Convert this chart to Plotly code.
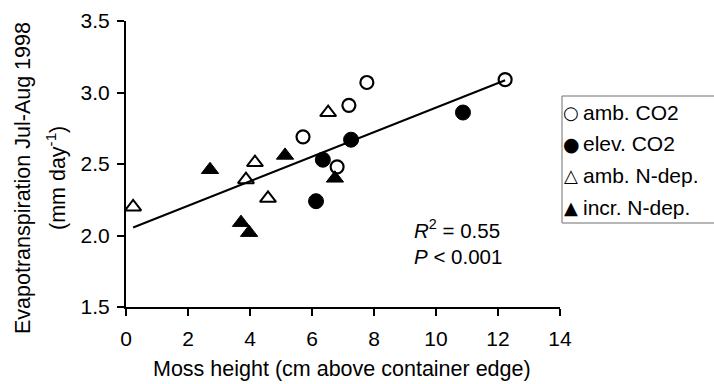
import numpy as np
import plotly.graph_objects as go

# Moss height (cm above container edge) and evapotranspiration (mm/day), Jul-Aug 1998
amb_co2_x = [5.71, 7.19, 7.77, 6.81, 12.23]
amb_co2_y = [2.69, 2.91, 3.07, 2.48, 3.09]
elev_co2_x = [6.13, 6.35, 7.26, 10.87]
elev_co2_y = [2.24, 2.53, 2.67, 2.86]
amb_n_x = [0.23, 3.87, 4.16, 4.58, 6.52]
amb_n_y = [2.20, 2.39, 2.51, 2.26, 2.86]
incr_n_x = [2.71, 3.71, 3.97, 5.13, 6.74]
incr_n_y = [2.46, 2.09, 2.02, 2.56, 2.40]

series_names = ["amb. CO2", "elev. CO2", "amb. N-dep.", "incr. N-dep."]
legend_glyphs = ["\u25CB", "\u25CF", "\u25B3", "\u25B2"]
x_ticks = [0, 2, 4, 6, 8, 10, 12, 14]
y_ticks = [1.5, 2.0, 2.5, 3.0, 3.5]
stats_text = "<i>R</i><sup>2</sup> = 0.55<br><i>P</i> < 0.001"

FONT = "Liberation Sans, Arial, Helvetica, sans-serif"

# Plot-area geometry in pixels (used to place the boxed key outside the axes)
W, H = 714, 384
ML, MR, MT, MB = 126, 154, 21, 77
PW, PH = W - ML - MR, H - MT - MB


def px_x(p):
    return (p - ML) / PW


def px_y(p):
    return (H - MB - p) / PH


# Linear fit across all plots
all_x = np.array(amb_co2_x + elev_co2_x + amb_n_x + incr_n_x)
all_y = np.array(amb_co2_y + elev_co2_y + amb_n_y + incr_n_y)
slope, intercept = np.polyfit(all_x, all_y, 1)
fit_x = np.array([all_x.min(), all_x.max()])
fit_y = intercept + slope * fit_x

fig = go.Figure()
fig.add_trace(go.Scatter(x=fit_x, y=fit_y, mode="lines",
                         line=dict(color="black", width=2), showlegend=False,
                         hoverinfo="skip"))

styles = [
    (amb_co2_x, amb_co2_y, "circle-open", 13, 2.2),
    (elev_co2_x, elev_co2_y, "circle", 15, 1),
    (amb_n_x, amb_n_y, "triangle-up-open", 14, 2),
    (incr_n_x, incr_n_y, "triangle-up", 15, 1),
]
for name, (xs, ys, sym, sz, lw) in zip(series_names, styles):
    fig.add_trace(go.Scatter(
        x=xs, y=ys, mode="markers", name=name, showlegend=False,
        marker=dict(symbol=sym, size=sz, color="black",
                    line=dict(color="black", width=lw)),
    ))

annotations = [
    dict(text="Moss height (cm above container edge)", xref="paper", yref="paper",
         x=px_x(342), y=px_y(369), xanchor="center", yanchor="middle",
         showarrow=False, font=dict(size=21.5)),
    dict(text="Evapotranspiration Jul-Aug 1998", xref="paper", yref="paper",
         x=px_x(23), y=px_y(178), xanchor="center", yanchor="middle",
         textangle=-90, showarrow=False, font=dict(size=21.5)),
    dict(text="(mm day<sup>-1</sup>)", xref="paper", yref="paper",
         x=px_x(56), y=px_y(178), xanchor="center", yanchor="middle",
         textangle=-90, showarrow=False, font=dict(size=21.5)),
    dict(text=stats_text, xref="paper", yref="paper", x=px_x(412), y=px_y(242),
         xanchor="left", yanchor="middle", align="left", showarrow=False,
         font=dict(size=20.5)),
]

# Boxed key on the right
key_top, key_step = 112, 31.7
glyph_sizes = [18, 19, 18, 18]
for i, (name, glyph) in enumerate(zip(series_names, legend_glyphs)):
    yc = key_top + i * key_step
    annotations.append(dict(
        text=glyph, xref="paper", yref="paper", x=px_x(571), y=px_y(yc),
        xanchor="center", yanchor="middle", showarrow=False,
        font=dict(size=glyph_sizes[i], family="DejaVu Sans")))
    annotations.append(dict(
        text=name, xref="paper", yref="paper", x=px_x(581), y=px_y(yc),
        xanchor="left", yanchor="middle", showarrow=False, font=dict(size=21)))

fig.update_layout(
    width=W, height=H,
    margin=dict(l=ML, r=MR, t=MT, b=MB, autoexpand=False),
    paper_bgcolor="white", plot_bgcolor="white",
    font=dict(family=FONT, size=21, color="black"),
    showlegend=False,
    xaxis=dict(range=[0, 14], tickvals=x_ticks, showgrid=False, zeroline=False,
               showline=True, linecolor="black", linewidth=2,
               ticks="outside", ticklen=7, tickwidth=2, tickcolor="black",
               ticklabelstandoff=5, tickfont=dict(size=21)),
    yaxis=dict(range=[1.5, 3.5], tickvals=y_ticks, tickformat=".1f",
               showgrid=False, zeroline=False,
               showline=True, linecolor="black", linewidth=2,
               ticks="outside", ticklen=7, tickwidth=2, tickcolor="black",
               ticklabelstandoff=3, tickfont=dict(size=21)),
    shapes=[dict(type="rect", xref="paper", yref="paper",
                 x0=px_x(562), x1=px_x(740), y0=px_y(223), y1=px_y(96),
                 line=dict(color="#6e6e6e", width=1), fillcolor="white",
                 layer="below")],
    annotations=annotations,
)

fig.write_html("out.html")
